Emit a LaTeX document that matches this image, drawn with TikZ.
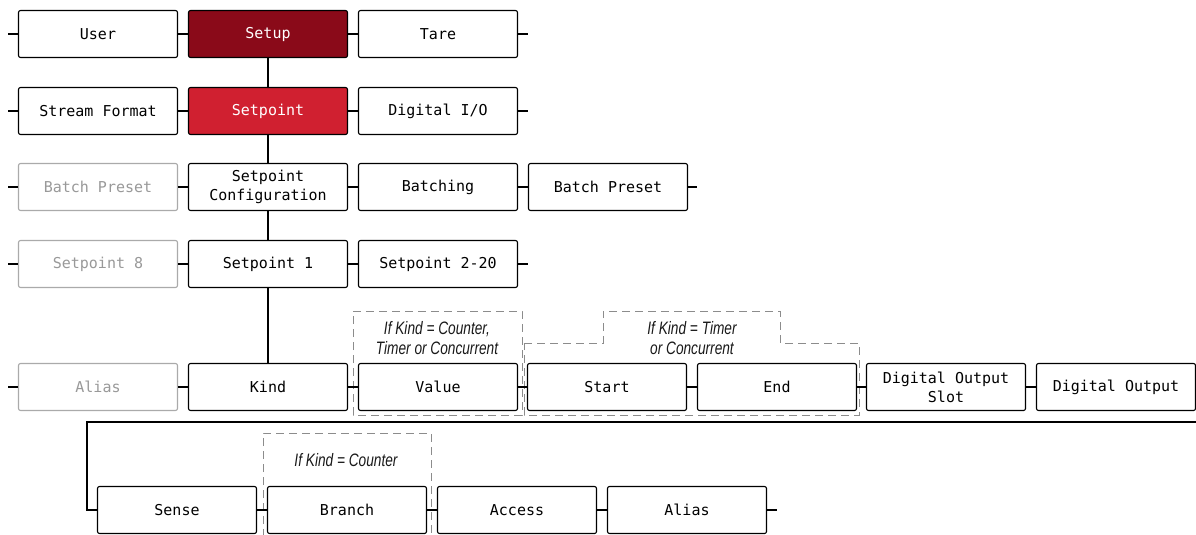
\documentclass[tikz,border=0pt]{standalone}
\usepackage{fontspec}
\newfontfamily\boxfont{DejaVu Sans Mono}
\newfontfamily\condit[FakeStretch=0.76]{Liberation Sans}
\definecolor{darkred}{HTML}{8A0A19}
\definecolor{midred}{HTML}{D02030}
\definecolor{greyline}{HTML}{AAAAAA}
\definecolor{greytext}{HTML}{999999}
\definecolor{dashgrey}{HTML}{8C8C8C}
\begin{document}
\begin{tikzpicture}[x=1pt,y=-1pt,
  box/.style={draw=black, rounded corners=2pt, line width=1.1pt, minimum width=159pt, minimum height=47pt, fill=white, font=\boxfont\fontsize{15}{19}\selectfont, align=center, inner sep=0pt, text=black},
  gbox/.style={box, draw=greyline, text=greytext},
  sel1/.style={box, fill=darkred, text=white},
  sel2/.style={box, fill=midred, text=white},
  conn/.style={line width=1.1pt, draw=black},
  dashbox/.style={draw=dashgrey, line width=0.9pt, dash pattern=on 8pt off 5pt},
  cond/.style={font=\condit\itshape\fontsize{18}{20}\selectfont, align=center, text=black!90, inner sep=0pt}
]
\useasboundingbox (0,0) rectangle (1196,535);

% dashed groups
\draw[dashbox] (353,311) -- (522,311) -- (522,415) -- (353,415) -- cycle;
\draw[dashbox] (524,343) -- (603,343) -- (603,311) -- (780,311) -- (780,343) -- (859,343) -- (859,415) -- (524,415) -- cycle;
\draw[dashbox] (263,537) -- (263,433) -- (431,433) -- (431,537);
\node[cond] (c1) at (437,338) {If Kind = Counter,\\Timer or Concurrent};
\node[cond] (c2) at (692,338) {If Kind = Timer\\or Concurrent};
\node[cond] (c3) at (346,460) {If Kind = Counter};

% row 1
\node[box]  (user)  at (98,34) {User};
\node[sel1] (setup) at (268,34) {Setup};
\node[box]  (tare)  at (438,34) {Tare};
% row 2
\node[box]  (stream) at (98,111) {Stream Format};
\node[sel2] (setpt)  at (268,111) {Setpoint};
\node[box]  (dio)    at (438,111) {Digital I/O};
% row 3
\node[gbox] (bpg)    at (98,187) {Batch Preset};
\node[box]  (spconf) at (268,187) {Setpoint\\Configuration};
\node[box]  (batch)  at (438,187) {Batching};
\node[box]  (bp)     at (608,187) {Batch Preset};
% row 4
\node[gbox] (sp8)  at (98,264) {Setpoint 8};
\node[box]  (sp1)  at (268,264) {Setpoint 1};
\node[box]  (sp2)  at (438,264) {Setpoint 2-20};
% row 5
\node[gbox] (aliasg) at (98,387) {Alias};
\node[box]  (kind)   at (268,387) {Kind};
\node[box]  (value)  at (438,387) {Value};
\node[box]  (start)  at (607,387) {Start};
\node[box]  (end)    at (777,387) {End};
\node[box]  (dos)    at (946,387) {Digital Output\\Slot};
\node[box]  (dout)   at (1116,387) {Digital Output};
% row 6
\node[box] (sense)  at (177,510) {Sense};
\node[box] (branch) at (347,510) {Branch};
\node[box] (access) at (517,510) {Access};
\node[box] (alias)  at (687,510) {Alias};

% stub coordinates
\coordinate (l1) at (8,34);
\coordinate (l2) at (8,111);
\coordinate (l3) at (8,187);
\coordinate (l4) at (8,264);
\coordinate (l5) at (8,387);
\coordinate (r1) at (528,34);
\coordinate (r2) at (528,111);
\coordinate (r3) at (697,187);
\coordinate (r4) at (528,264);
\coordinate (r6) at (777,510);
\coordinate (wr) at (1196,422);
\coordinate (wl) at (87,422);
\coordinate (wd) at (87,510);

% vertical
\draw[conn] (setup) -- (setpt);
\draw[conn] (setpt) -- (spconf);
\draw[conn] (spconf) -- (sp1);
\draw[conn] (sp1) -- (kind);
% row connectors
\draw[conn] (l1) -- (user) (user) -- (setup) (setup) -- (tare) (tare) -- (r1);
\draw[conn] (l2) -- (stream) (stream) -- (setpt) (setpt) -- (dio) (dio) -- (r2);
\draw[conn] (l3) -- (bpg) (bpg) -- (spconf) (spconf) -- (batch) (batch) -- (bp) (bp) -- (r3);
\draw[conn] (l4) -- (sp8) (sp8) -- (sp1) (sp1) -- (sp2) (sp2) -- (r4);
\draw[conn] (l5) -- (aliasg) (aliasg) -- (kind) (kind) -- (value) (value) -- (start) (start) -- (end) (end) -- (dos) (dos) -- (dout);
\draw[conn] (wr) -- (wl) -- (wd) -- (sense.west);
\draw[conn] (sense) -- (branch) (branch) -- (access) (access) -- (alias) (alias) -- (r6);
\end{tikzpicture}
\end{document}
